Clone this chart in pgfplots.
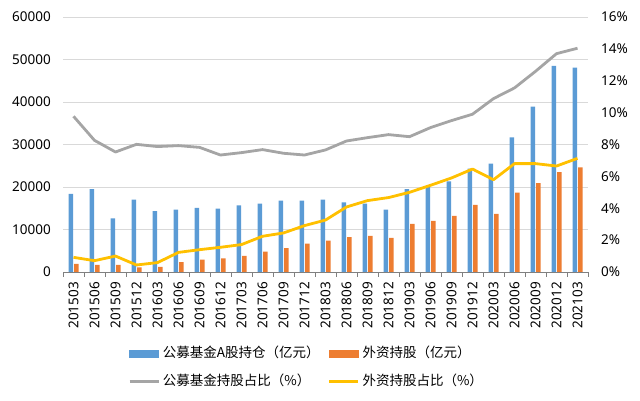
\documentclass[border=0pt]{standalone}
\usepackage{pgfplots}
\pgfplotsset{compat=1.18}
\usepackage{fontspec}
\setmainfont{Noto Sans}
\newfontfamily\cjk{Noto Sans CJK SC}

\definecolor{cBlue}{HTML}{5B9BD5}
\definecolor{cOrange}{HTML}{ED7D31}
\definecolor{cGray}{HTML}{A5A5A5}
\definecolor{cGold}{HTML}{FFC000}
\definecolor{cGrid}{HTML}{D9D9D9}
\definecolor{cAxis}{HTML}{808080}

% quarterly data, holdings in 100 million yuan, shares in percent
\pgfplotstableread{
idx fund  foreign fundpct foreignpct
0   18400 1900  9.77  0.92
1   19500 1700  8.26  0.71
2   12600 1700  7.53  1.00
3   17000 1100  8.01  0.44
4   14350 1200  7.87  0.59
5   14700 2350  7.93  1.23
6   15100 2900  7.82  1.40
7   14900 3200  7.34  1.55
8   15700 3800  7.49  1.72
9   16100 4800  7.68  2.24
10  16800 5600  7.45  2.45
11  16800 6700  7.34  2.91
12  17000 7400  7.66  3.26
13  16400 8200  8.22  4.08
14  16100 8500  8.43  4.48
15  14700 8000  8.62  4.67
16  19500 11300 8.49  5.00
17  20000 12000 9.06  5.44
18  21300 13200 9.50  5.90
19  24300 15800 9.90  6.46
20  25500 13700 10.88 5.79
21  31700 18700 11.55 6.80
22  38900 20900 12.59 6.80
23  48500 23500 13.70 6.65
24  48100 24600 14.04 7.13
}\datatable

\pgfplotsset{
  base/.style={
    scale only axis, width=525bp, height=255bp,
    at={(63bp,129bp)}, anchor=south west,
    xmin=-0.5, xmax=24.5, ymin=0,
    /pgf/number format/assume math mode=true,
    /pgf/number format/1000 sep={},
    scaled y ticks=false,
    y axis line style={draw=none},
    ytick style={draw=none},
    major tick length=0pt,
  },
}

\begin{document}
\fontsize{13.5bp}{16bp}\selectfont
\begin{tikzpicture}[font=\fontsize{13.5bp}{16bp}\selectfont]
\useasboundingbox (0,0) rectangle (640bp,401bp);

% holdings as bars, left axis
\begin{axis}[base,
  ymax=60000, ytick={0,10000,...,60000},
  ymajorgrids, grid style={cGrid, line width=0.8bp},
  axis x line*=bottom, axis y line*=left,
  x axis line style={cAxis, line width=0.8bp},
  xtick={0,...,24},
  xticklabels={201503,201506,201509,201512,201603,201606,201609,201612,
    201703,201706,201709,201712,201803,201806,201809,201812,
    201903,201906,201909,201912,202003,202006,202009,202012,202103},
  minor xtick={-0.5,0.5,...,24.5},
  minor tick length=5bp, tick align=outside,
  minor x tick style={cAxis, line width=0.8bp},
  xticklabel style={rotate=90, anchor=east, inner sep=0pt},
  xticklabel shift=10bp,
  yticklabel style={inner sep=0pt},
  yticklabel shift=12bp,
  ybar=1bp, bar width=4.5bp,
]
\addplot[fill=cBlue, draw=none] table[x=idx, y=fund] {\datatable};
\addplot[fill=cOrange, draw=none] table[x=idx, y=foreign] {\datatable};
\end{axis}

% shares as lines, right axis
\begin{axis}[base,
  ymax=16, ytick={0,2,...,16},
  axis y line*=right, axis x line=none,
  yticklabel={\pgfmathprintnumber{\tick}\%},
  yticklabel style={inner sep=0pt},
  yticklabel shift=13bp,
  legend columns=2,
  legend cell align=left,
  legend style={
    at={(axis description cs:0.1238,-0.29)}, anchor=north west,
    draw=none, fill=none, inner sep=0pt,
    font={\fontsize{13.5bp}{16bp}\selectfont\cjk},
    nodes={inner sep=1bp, text height=10bp, text depth=3bp},
    row sep=13bp,
    /tikz/every odd column/.append style={column sep=2bp},
    /tikz/every even column/.append style={column sep=7bp},
  },
]
\addlegendimage{legend image code/.code={\fill[cBlue] (0bp,-3.5bp) rectangle (29bp,3.5bp);}}
\addlegendentry{公募基金A股持仓（亿元）}
\addlegendimage{legend image code/.code={\fill[cOrange] (0bp,-3.5bp) rectangle (29bp,3.5bp);}}
\addlegendentry{外资持股（亿元）}
\addplot[cGray, line width=2.8bp, line join=round, mark=none,
  legend image code/.code={\draw[cGray, line width=2.8bp] (0bp,0bp) -- (29bp,0bp);}]
  table[x=idx, y=fundpct] {\datatable};
\addlegendentry{公募基金持股占比（\%）}
\addplot[cGold, line width=2.8bp, line join=round, mark=none,
  legend image code/.code={\draw[cGold, line width=2.8bp] (0bp,0bp) -- (29bp,0bp);}]
  table[x=idx, y=foreignpct] {\datatable};
\addlegendentry{外资持股占比（\%）}
\end{axis}
\end{tikzpicture}
\end{document}
